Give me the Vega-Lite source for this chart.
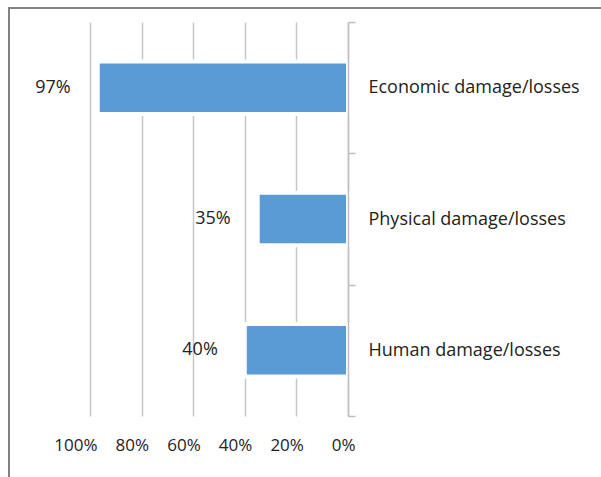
{
  "$schema": "https://vega.github.io/schema/vega-lite/v6.json",
  "width": 592,
  "height": 469,
  "autosize": {"type": "none"},
  "padding": {"left": 9, "top": 8, "right": 0, "bottom": 0},
  "background": "white",
  "config": {
    "view": {"stroke": "#828282", "strokeWidth": 2, "strokeDash": [592, 1061, 469]},
    "font": "Open Sans",
    "axis": {"labelFont": "Open Sans", "labelFontSize": 17, "labelColor": "#222222", "title": null}
  },
  "data": {
    "values": [
      {"impact": "Economic damage/losses", "share": 0.97},
      {"impact": "Physical damage/losses", "share": 0.35},
      {"impact": "Human damage/losses", "share": 0.40}
    ]
  },
  "encoding": {
    "y": {
      "field": "impact",
      "type": "nominal",
      "sort": null,
      "scale": {"range": [14, 408], "paddingInner": 0, "paddingOuter": 0},
      "axis": {
        "orient": "right",
        "offset": -253,
        "grid": false,
        "domainColor": "#bfbfbf",
        "domainWidth": 1.5,
        "tickColor": "#bfbfbf",
        "tickWidth": 1.5,
        "tickSize": 7,
        "tickBand": "extent",
        "labelPadding": 13,
        "labelAlign": "left",
        "labelFontSize": 18,
        "labelLimit": 0,
        "zindex": 1
      }
    }
  },
  "layer": [
    {
      "mark": {"type": "bar", "color": "#5b9bd5", "stroke": "white", "strokeWidth": 4, "height": {"band": 0.4}},
      "encoding": {
        "x": {
          "field": "share",
          "type": "quantitative",
          "scale": {"domain": [0, 1], "range": [339, 81], "nice": false, "zero": true},
          "axis": {
            "orient": "top",
            "values": [0, 0.2, 0.4, 0.6, 0.8, 1],
            "grid": true,
            "gridColor": "#c6c6c6",
            "gridWidth": 1.5,
            "domain": false,
            "ticks": false,
            "labels": false
          }
        }
      }
    },
    {
      "mark": {"type": "text", "align": "right", "baseline": "middle", "dx": -27, "fontSize": 18, "font": "Open Sans", "color": "#222222"},
      "encoding": {
        "x": {
          "field": "share",
          "type": "quantitative",
          "scale": {"domain": [0, 1], "range": [339, 81], "nice": false, "zero": true},
          "axis": {
            "orient": "bottom",
            "offset": -61,
            "values": [0, 0.2, 0.4, 0.6, 0.8, 1],
            "format": ".0%",
            "grid": false,
            "domain": false,
            "ticks": false,
            "labelAlign": "right",
            "labelOffset": 7,
            "labelPadding": 21,
            "labelFlush": false,
            "labelOverlap": false
          }
        },
        "text": {"field": "share", "type": "quantitative", "format": ".0%"}
      }
    }
  ],
  "resolve": {"axis": {"x": "independent"}}
}
